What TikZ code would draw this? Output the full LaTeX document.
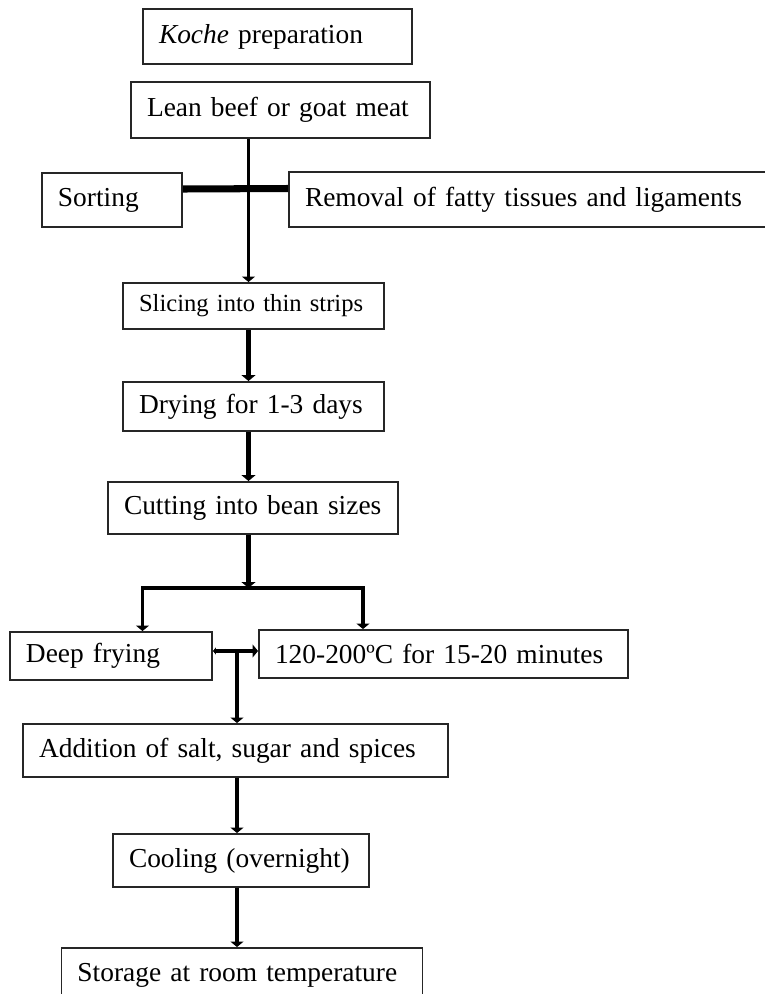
\documentclass[tikz,border=0pt]{standalone}
\usepackage{fontspec}
\setmainfont{Liberation Serif}
\usepackage{tikz}
\usetikzlibrary{arrows.meta}
\tikzset{
  stepbox/.style={draw=black!85, line width=1.1pt, inner xsep=0.32cm, inner ysep=0pt,
                  align=left, font=\fontsize{15.6}{18}\selectfont},
  link/.style={line width=2.2pt, line join=miter},
  flow/.style={-{Triangle[length=1.1mm,width=2.6mm]}, line width=2.2pt},
  heavy/.style={-{Triangle[length=1.2mm,width=2.8mm]}, line width=3.3pt},
  bar/.style={line width=4pt},
}
\begin{document}
\begin{tikzpicture}[
  small/.style={font=\fontsize{14}{17}\selectfont},
]
  \useasboundingbox (0,0) rectangle (15.3,-19.88);

  % Title and raw material
  \node[stepbox, text width=4.74cm, minimum height=1.1cm]  (koche)   at (5.55,-0.73)  {\textit{Koche} preparation};
  \node[stepbox, text width=5.34cm, minimum height=1.12cm] (meat)    at (5.61,-2.2)   {Lean beef or goat meat};

  % Pre-treatment
  \node[stepbox, text width=2.16cm, minimum height=1.08cm] (sorting) at (2.24,-4.0)   {Sorting};
  \node[stepbox, text width=9.08cm, minimum height=1.1cm]  (removal) at (10.64,-3.99) {Removal of fatty tissues and ligaments};
  \node[stepbox, small, text width=4.58cm, minimum height=0.92cm] (slicing) at (5.07,-6.12) {Slicing into thin strips};
  \node[stepbox, text width=4.58cm, minimum height=0.98cm] (drying)  at (5.07,-8.13)  {Drying for 1-3 days};
  \node[stepbox, text width=5.16cm, minimum height=1.04cm] (cutting) at (5.06,-10.16) {Cutting into bean sizes};

  % Frying
  \node[stepbox, text width=3.4cm,  minimum height=0.96cm] (deep)    at (2.22,-13.12) {Deep frying};
  \node[stepbox, text width=6.74cm, minimum height=0.96cm] (temp)    at (8.87,-13.08) {120-200ºC for 15-20 minutes};

  % Finishing
  \node[stepbox, text width=7.86cm, minimum height=1.06cm] (spices)  at (4.71,-15.01) {Addition of salt, sugar and spices};
  \node[stepbox, text width=4.48cm, minimum height=1.06cm] (cooling) at (4.82,-17.21) {Cooling (overnight)};
  \node[stepbox, text width=6.58cm, minimum height=1.08cm] (storage) at (4.84,-19.5)  {Storage at room temperature};

  % Junction points
  \coordinate (trunk) at (4.97,0);
  \coordinate (forkL) at (2.85,-11.76);
  \coordinate (forkR) at (7.26,-11.76);
  \coordinate (mix)   at (4.74,-13.02);

  % Main line
  \draw[flow] (trunk |- meat.south) -- (trunk |- slicing.north);
  \draw[bar] ([yshift=0.22cm]sorting.east) -- ([yshift=0.22cm]removal.west);
  \draw[heavy] (trunk |- slicing.south) -- (trunk |- drying.north);
  \draw[heavy] (trunk |- drying.south) -- (trunk |- cutting.north);
  \draw[heavy] (trunk |- cutting.south) -- (trunk |- forkL);

  % Split to frying
  \draw[link, {Triangle[length=1.1mm,width=2.6mm]}-{Triangle[length=1.1mm,width=2.6mm]}]
    (forkL |- deep.north) -- (forkL) -- (forkR) -- (forkR |- temp.north);
  \draw[link, {Triangle[length=0.6mm,width=1.4mm]}-{Triangle[length=1.1mm,width=2.6mm]}]
    (deep.east |- mix) -- (temp.west |- mix);

  % After frying
  \draw[flow] (mix) -- (mix |- spices.north);
  \draw[flow] (mix |- spices.south) -- (mix |- cooling.north);
  \draw[flow] (mix |- cooling.south) -- (mix |- storage.north);

\end{tikzpicture}
\end{document}
